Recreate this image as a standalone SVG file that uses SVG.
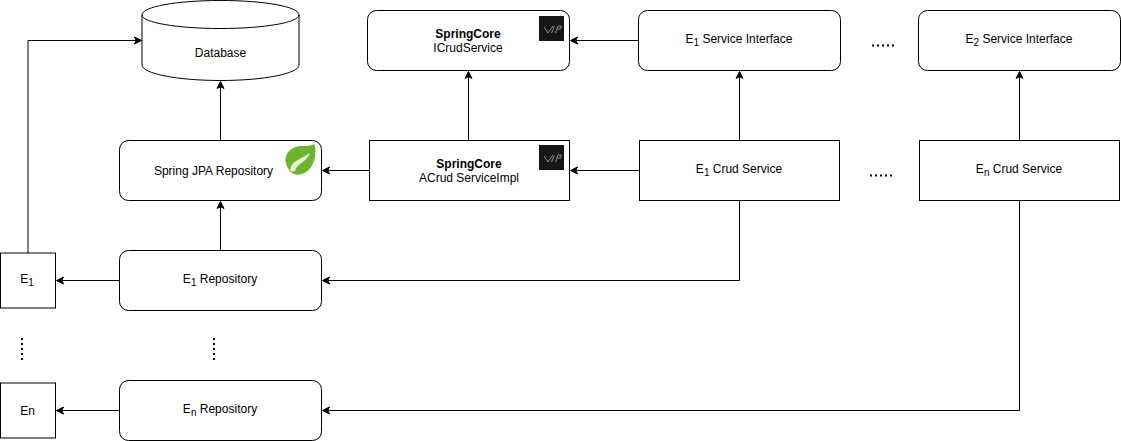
<svg xmlns="http://www.w3.org/2000/svg" width="1121" height="441" viewBox="0 0 1121 441">
<style>
.b{fill:#fff;stroke:#000;stroke-width:1}
.c{fill:none;stroke:#000;stroke-width:1}
.a{fill:#000;stroke:#000;stroke-width:1}
.d{fill:none;stroke:#000;stroke-width:2;stroke-dasharray:2 3}
text{font-family:"Liberation Sans",Arial,sans-serif;font-size:12px;fill:#000;text-anchor:middle}
.s{font-size:10px}
.t{font-weight:bold}
</style>
<defs>
<symbol id="vip" viewBox="0 0 25 25"><rect width="25" height="25" fill="#161616"/><path d="M5 11L9 17L14 10M15.500 10L12.500 17M19 10L16.500 17M19 10H22.500L21.500 13H18" fill="none" stroke="#9a9a9a" stroke-width="0.900"/></symbol>
</defs>
<g id="connectors">
<path class="c" d="M28 253V40.500H136"/><path class="a" d="M141.500 40.500L134.500 37L136.300 40.500L134.500 44Z"/>
<path class="c" d="M220.500 140.500V87"/><path class="a" d="M220.500 81.500L217 88.500L220.500 86.700L224 88.500Z"/>
<path class="c" d="M468.500 140.500V77"/><path class="a" d="M468.500 71.500L465 78.500L468.500 76.700L472 78.500Z"/>
<path class="c" d="M638.500 40.500H576"/><path class="a" d="M570.500 40.500L577.500 37L575.700 40.500L577.500 44Z"/>
<path class="c" d="M739.500 140.500V77"/><path class="a" d="M739.500 71.500L736 78.500L739.500 76.700L743 78.500Z"/>
<path class="c" d="M1019.500 140.500V77"/><path class="a" d="M1019.500 71.500L1016 78.500L1019.500 76.700L1023 78.500Z"/>
<path class="c" d="M369.500 170.500H328"/><path class="a" d="M322.500 170.500L329.500 167L327.700 170.500L329.500 174Z"/>
<path class="c" d="M639.500 170.500H576"/><path class="a" d="M570.500 170.500L577.500 167L575.700 170.500L577.500 174Z"/>
<path class="c" d="M220.500 250.500V207"/><path class="a" d="M220.500 201.500L217 208.500L220.500 206.700L224 208.500Z"/>
<path class="c" d="M119.500 280.500H62"/><path class="a" d="M56.500 280.500L63.500 277L61.700 280.500L63.500 284Z"/>
<path class="c" d="M739.500 200.500V280.500H328"/><path class="a" d="M322.500 280.500L329.500 277L327.700 280.500L329.500 284Z"/>
<path class="c" d="M119.500 410.500H62"/><path class="a" d="M56.500 410.500L63.500 407L61.700 410.500L63.500 414Z"/>
<path class="c" d="M1019.500 200.500V410.500H328"/><path class="a" d="M322.500 410.500L329.500 407L327.700 410.500L329.500 414Z"/>
</g>
<g id="database">
<path class="b" d="M142 15V65C142 73.500 177 80.500 220.500 80.500S299 73.500 299 65V15C299 6.500 264 0.500 220.500 0.500S142 6.500 142 15Z"/>
<path class="c" d="M142 15C142 22.500 177 28.500 220.500 28.500S299 22.500 299 15"/>
<text x="220.500" y="57">Database</text>
</g>
<g id="icrud">
<rect class="b" x="367.500" y="10.500" width="202" height="60" rx="9"/>
<text x="468" y="38" class="t">SpringCore</text><text x="468" y="52">ICrudService</text>
<use href="#vip" x="539" y="16" width="25" height="25"/>
</g>
<g id="e1-service">
<rect class="b" x="638.500" y="10.500" width="202" height="60" rx="9"/>
<text x="739" y="43">E<tspan class="s" dy="3">1</tspan><tspan dy="-3"> Service Interface</tspan></text>
</g>
<g id="e2-service">
<rect class="b" x="918.500" y="10.500" width="202" height="60" rx="9"/>
<text x="1019" y="43">E<tspan class="s" dy="3">2</tspan><tspan dy="-3"> Service Interface</tspan></text>
</g>
<g id="spring-jpa">
<rect class="b" x="119.500" y="140.500" width="202" height="60" rx="9"/>
<text x="213.500" y="175">Spring JPA Repository</text>
<path d="M288 168C281 156 290 145.500 303 146C307 146 310.500 146 314.500 144C317 153 315 167 304.500 173C297 176.500 291 174.500 288 168Z" fill="#6cb52d"/>
<path d="M290 170C291 161 301 159 310 153C306 163 297 163 295.500 170C294 172 291.500 172 290 170Z" fill="#eaf5dc"/>
</g>
<g id="acrud">
<rect class="b" x="369.500" y="140.500" width="200" height="60"/>
<text x="469" y="168" class="t">SpringCore</text><text x="469" y="182">ACrud ServiceImpl</text>
<use href="#vip" x="539" y="145" width="25" height="25"/>
</g>
<g id="e1-crud">
<rect class="b" x="639.500" y="140.500" width="200" height="60"/>
<text x="739" y="173">E<tspan class="s" dy="3">1</tspan><tspan dy="-3"> Crud Service</tspan></text>
</g>
<g id="en-crud">
<rect class="b" x="919.500" y="140.500" width="200" height="60"/>
<text x="1019" y="173">E<tspan class="s" dy="3">n</tspan><tspan dy="-3"> Crud Service</tspan></text>
</g>
<g id="e1-repo">
<rect class="b" x="119.500" y="250.500" width="202" height="60" rx="9"/>
<text x="220" y="283">E<tspan class="s" dy="3">1</tspan><tspan dy="-3"> Repository</tspan></text>
</g>
<g id="en-repo">
<rect class="b" x="119.500" y="380.500" width="202" height="60" rx="9"/>
<text x="220" y="413">E<tspan class="s" dy="3">n</tspan><tspan dy="-3"> Repository</tspan></text>
</g>
<g id="e1">
<rect class="b" x="0.500" y="253" width="55" height="55"/>
<text x="27" y="283">E<tspan class="s" dy="3">1</tspan></text>
</g>
<g id="en">
<rect class="b" x="0.500" y="383" width="55" height="55"/>
<text x="27.500" y="415">En</text>
</g>
<g id="ellipses">
<path class="d" d="M22 338V363M214 338V363M872 45.500H897M870 175.500H895"/>
</g>
</svg>
